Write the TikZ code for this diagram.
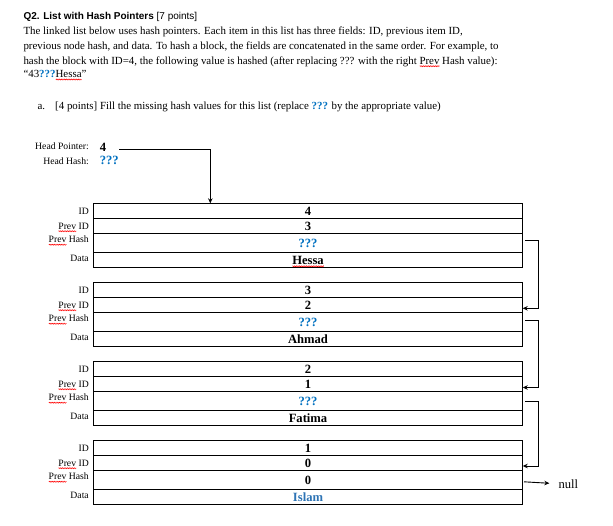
\documentclass[tikz,border=0pt]{standalone}
\usepackage{fontspec}
\setmainfont{Liberation Serif}
\setsansfont{Liberation Sans}
\usetikzlibrary{arrows.meta, positioning, decorations.pathmorphing}

\definecolor{hashblue}{RGB}{0,112,192}
\definecolor{islamblue}{RGB}{46,116,181}

% red spell-check wave under a word
\newlength\spellwd
\newcommand\spellmark[1]{\settowidth\spellwd{#1}\rlap{\tikz[baseline=0pt]\draw[red, line width=0.45pt, decorate, decoration={zigzag, amplitude=0.55pt, segment length=1.7pt}] (0pt,-2.2pt) -- (\spellwd,-2.2pt);}#1}

\newcommand\bodyfont{\fontsize{10.9}{14.5}\selectfont}
\newcommand\valfont{\fontsize{12.6}{14}\selectfont\bfseries}
\newcommand\labfont{\fontsize{9.7}{11}\selectfont}
\newcommand\qmarks{\textcolor{hashblue}{\bfseries ???}}

\begin{document}
\begin{tikzpicture}[
  x=1pt, y=-1pt,
  cell/.style={rectangle, draw, line width=0.9pt, minimum width=429.4pt, minimum height=15pt, inner sep=0pt, outer sep=0pt, text height=8.6pt, text depth=0pt, font=\valfont},
  hashcell/.style={cell, minimum height=19pt},
  fieldlabel/.style={font=\labfont, inner sep=0pt, anchor=east, text height=6.4pt, text depth=0pt},
  textline/.style={font=\bodyfont, inner sep=0pt, anchor=base west},
  arrow/.style={-{Stealth[length=5pt, width=4.5pt]}, line width=0.9pt}
]
\useasboundingbox (0,0) rectangle (613,525);

% Question text.
\node[font=\sffamily\fontsize{10}{12}\selectfont, inner sep=0pt, anchor=base west] (title) at (23.3,19.3) {\textbf{Q2. List with Hash Pointers} [7 points]};
\node[textline] (line1) at (23.3,34.3) {The linked list below uses hash pointers. Each item in this list has three fields: ID, previous item ID,};
\node[textline] (line2) at (23.3,49.3) {previous node hash, and data. To hash a block, the fields are concatenated in the same order. For example, to};
\node[textline] (line3) at (23.3,64) {hash the block with ID=4, the following value is hashed (after replacing ??? with the right \spellmark{Prev} Hash value):};
\node[textline] (line4) at (23.3,77.3) {“43\qmarks\spellmark{Hessa}”};
\node[textline] (itema) at (37.3,109) {a.};
\node[textline] (taska) at (55,109) {[4 points] Fill the missing hash values for this list (replace \qmarks{} by the appropriate value)};

% Head of the list.
\node[fieldlabel] (hplab) at (89,146.7) {Head Pointer:};
\node[font=\valfont, inner sep=0pt] (hpval) at (103,147) {4};
\node[fieldlabel] (hhlab) at (89,161) {Head Hash:};
\node[font=\valfont, inner sep=0pt, text=hashblue] (hhval) at (109.2,160.5) {???};
\coordinate (hpstart) at (119.3,149.7);
\coordinate (hpturn) at (210.3,149.7);

% Block with ID 4.
\node[cell] (id1) at (308,210.8) {4};
\node[cell, below=0pt of id1] (pid1) {3};
\node[hashcell, below=0pt of pid1] (ph1) {\textcolor{hashblue}{???}};
\node[cell, below=0pt of ph1] (dat1) {\spellmark{Hessa}};

% Block with ID 3.
\node[cell, below=15pt of dat1] (id2) {3};
\node[cell, below=0pt of id2] (pid2) {2};
\node[hashcell, below=0pt of pid2] (ph2) {\textcolor{hashblue}{???}};
\node[cell, below=0pt of ph2] (dat2) {Ahmad};

% Block with ID 2.
\node[cell, below=15pt of dat2] (id3) {2};
\node[cell, below=0pt of id3] (pid3) {1};
\node[hashcell, below=0pt of pid3] (ph3) {\textcolor{hashblue}{???}};
\node[cell, below=0pt of ph3] (dat3) {Fatima};

% Block with ID 1.
\node[cell, below=15pt of dat3] (id4) {1};
\node[cell, below=0pt of id4] (pid4) {0};
\node[hashcell, below=0pt of pid4] (ph4) {0};
\node[cell, below=0pt of ph4] (dat4) {\textcolor{islamblue}{Islam}};

% Field names on the left.
\node[fieldlabel, left=4.3pt of id1] (lid1) {ID};
\node[fieldlabel, left=4.3pt of pid1] (lpid1) {\spellmark{Prev} ID};
\node[fieldlabel, left=4.3pt of ph1, yshift=3.5pt] (lph1) {\spellmark{Prev} Hash};
\node[fieldlabel, left=4.3pt of dat1, yshift=1.5pt] (ldat1) {Data};

\node[fieldlabel, left=4.3pt of id2] (lid2) {ID};
\node[fieldlabel, left=4.3pt of pid2] (lpid2) {\spellmark{Prev} ID};
\node[fieldlabel, left=4.3pt of ph2, yshift=3.5pt] (lph2) {\spellmark{Prev} Hash};
\node[fieldlabel, left=4.3pt of dat2, yshift=1.5pt] (ldat2) {Data};

\node[fieldlabel, left=4.3pt of id3] (lid3) {ID};
\node[fieldlabel, left=4.3pt of pid3] (lpid3) {\spellmark{Prev} ID};
\node[fieldlabel, left=4.3pt of ph3, yshift=3.5pt] (lph3) {\spellmark{Prev} Hash};
\node[fieldlabel, left=4.3pt of dat3, yshift=1.5pt] (ldat3) {Data};

\node[fieldlabel, left=4.3pt of id4] (lid4) {ID};
\node[fieldlabel, left=4.3pt of pid4] (lpid4) {\spellmark{Prev} ID};
\node[fieldlabel, left=4.3pt of ph4, yshift=3.5pt] (lph4) {\spellmark{Prev} Hash};
\node[fieldlabel, left=4.3pt of dat4, yshift=1.5pt] (ldat4) {Data};

% End of the chain.
\node[font=\fontsize{12.6}{14}\selectfont, inner sep=0pt, anchor=west] (nullptr) at (558.3,483.8) {null};

% Hash pointers.
\draw[arrow] (hpstart) -- (hpturn) -- (hpturn |- id1.north);
\draw[arrow] ([xshift=2.3pt, yshift=2pt]ph1.east) -- ++(13.5,0) |- ([yshift=-3.5pt]pid2.east);
\draw[arrow] ([xshift=2.3pt, yshift=1pt]ph2.east) -- ++(13.5,0) |- ([yshift=-3.7pt]pid3.east);
\draw[arrow] ([xshift=2.3pt, yshift=-0.5pt]ph3.east) -- ++(13.5,0) |- ([yshift=-3.2pt]pid4.east);
\draw[arrow, shorten >=9pt] ([xshift=1.3pt, yshift=-2pt]ph4.east) -- (nullptr.west);

\end{tikzpicture}
\end{document}
